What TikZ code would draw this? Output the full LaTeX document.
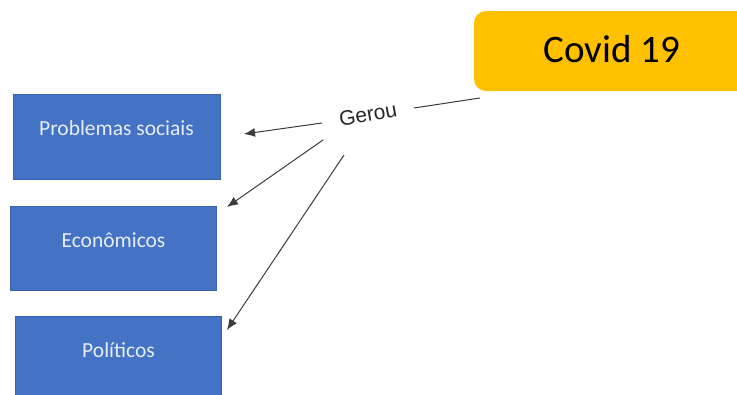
\documentclass[tikz,border=0pt]{standalone}
\usepackage{fontspec}
\setmainfont{Carlito}
\newfontfamily\arialfont{Liberation Sans}
\usetikzlibrary{arrows.meta}
\definecolor{boxblue}{HTML}{4472C4}
\definecolor{boxedge}{HTML}{3A62A8}
\definecolor{boxtext}{HTML}{E6EDF8}
\definecolor{covidfill}{HTML}{FFC000}
\definecolor{linegray}{HTML}{3C3C3C}
\begin{document}
\begin{tikzpicture}[x=1pt,y=-1pt,
  bluebox/.style={draw=boxedge,line width=0.8pt,fill=boxblue,inner sep=0pt,anchor=north west},
  boxlabel/.style={text=boxtext,font=\fontsize{21.5}{24}\selectfont},
  conn/.style={draw=linegray,line width=1pt},
  arr/.style={conn,-{Latex[length=11pt,width=9pt]}}]
\useasboundingbox (0,0) rectangle (737,394);
\begin{scope}
\clip (0,0) rectangle (737,394);
% Covid box
\path[fill=covidfill,rounded corners=12pt] (474,11) rectangle (790,91);
\node (covid) at (612,49) {\fontsize{39}{44}\selectfont Covid 19};
\coordinate (covidout) at (480,98);
% blue boxes
\node[bluebox,minimum width=207pt,minimum height=85pt] (b1) at (13,94) {};
\node[bluebox,minimum width=206pt,minimum height=84pt] (b2) at (10,206) {};
\node[bluebox,minimum width=206pt,minimum height=100pt] (b3) at (15,316) {};
\node[boxlabel] (t1) at (116.5,128) {Problemas sociais};
\node[boxlabel] (t2) at (113.5,240) {Econômicos};
\node[boxlabel] (t3) at (118.5,350) {Políticos};
% label
\node[rotate=10,font=\arialfont\fontsize{21}{24}\selectfont,text=black!85] (gerou) at (368,114) {Gerou};
% connector points
\coordinate (g1) at (414,108);
\coordinate (s1) at (322,123);
\coordinate (e1) at (244,134);
\coordinate (s2) at (323,140);
\coordinate (e2) at (227,207);
\coordinate (s3) at (344,155);
\coordinate (e3) at (227,330);
\draw[conn] (covidout) -- (g1);
\draw[arr] (s1) -- (e1);
\draw[arr] (s2) -- (e2);
\draw[arr] (s3) -- (e3);
\end{scope}
\end{tikzpicture}
\end{document}
